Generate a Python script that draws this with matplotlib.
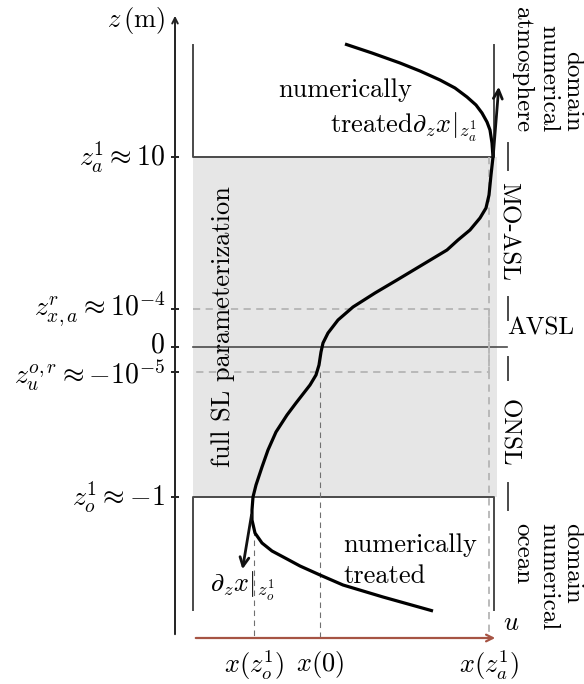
import matplotlib
matplotlib.use('Agg')
import matplotlib.pyplot as plt

plt.rcParams['mathtext.fontset'] = 'cm'
plt.rcParams['font.family'] = 'cmr10'
plt.rcParams['axes.unicode_minus'] = False

# schematic units: u along the velocity axis, z along the height axis (z=0 is the interface)
z_a1, z_xa, z_0, z_uo, z_o1 = 190, 38, 0, -25, -150
u_o1, u_0, u_a1 = 79, 145, 314
z_top, z_bot = 302, -263
u_left, u_right = 18, 319

level_z = [z_a1, z_xa, z_0, z_uo, z_o1]
level_labels = [r'$z_a^1 \approx 10$', r'$z_{x,a}^r \approx 10^{-4}$', r'$0$',
                r'$z_u^{o,r} \approx {-10}^{-5}$', r'$z_o^1 \approx {-1}$']
label_shift = [0, 0, 2, -3, 0]

# velocity profile u(z)
prof_u = [170, 197, 225, 245, 265, 280, 292, 301, 307, 312, 315, 317, 318, 316, 314, 311,
          305, 295, 283, 272, 247, 222, 200, 178, 163, 153, 148, 146, 144, 141, 135, 121,
          112, 101, 93, 87, 81, 78, 77, 77, 80, 87, 97, 112, 125, 145, 168, 188, 208, 233, 258]
prof_z = [303, 294, 284, 276, 267, 259, 250, 242, 234, 225, 217, 204, 190, 172, 152, 139,
          129, 117, 107, 97, 82, 67, 54, 40, 27, 14, 4, -5, -18, -28, -38, -56,
          -68, -85, -103, -120, -138, -150, -163, -173, -186, -196, -204, -212, -219, -228,
          -238, -244, -250, -257, -264]

# separators between the layer labels on the right
sep_z = [(204, 177), (50, 27), (-10, -33), (-136, -163)]

atm_words = ['atmosphere', 'numerical', 'domain']
ocn_words = ['ocean', 'numerical', 'domain']
word_cols = [347, 373, 397]

fig = plt.figure(figsize=(5.84, 6.84), dpi=100)
ax = fig.add_axes([0, 0, 1, 1])
ax.set_xlim(-175, 409)
ax.set_ylim(-337, 347)
ax.axis('off')

box = '#4a4a4a'
fs = 19

# shaded surface layer
ax.fill_between([u_left, u_right + 3], z_o1, z_a1, color='#e6e6e6', lw=0, zorder=0)

# atmosphere and ocean domains
ax.plot([u_left, u_left, u_right, u_right], [z_top, z_a1, z_a1, z_top], color=box, lw=1.4)
ax.plot([u_left, u_left, u_right, u_right], [z_bot, z_o1, z_o1, z_bot], color=box, lw=1.4)
ax.plot([u_left, u_right + 13], [z_0, z_0], color=box, lw=1.2)

# roughness heights and reference values
dash = dict(color='#b5b5b5', lw=1.3, dashes=(4, 3))
ax.plot([u_left, u_a1, u_a1, u_left], [z_xa, z_xa, z_uo, z_uo], **dash)
ax.plot([u_a1, u_a1], [z_a1, -291], **dash)
ax.plot([u_0, u_0], [z_uo, -291], color='#707070', lw=0.8, dashes=(5, 4))
ax.plot([u_o1, u_o1], [-183, -291], color='#707070', lw=0.8, dashes=(5, 4))

# profile
ax.plot(prof_u, prof_z, color='black', lw=2.3, solid_capstyle='butt', zorder=3)

# boundary gradients
ax.annotate('', xy=(324, 263), xytext=(318, 188),
            arrowprops=dict(arrowstyle='->', lw=2.0, color='#111111', mutation_scale=16))
ax.annotate('', xy=(67, -225), xytext=(77, -165),
            arrowprops=dict(arrowstyle='->', lw=2.0, color='#111111', mutation_scale=16))

# axes
ax.annotate('', xy=(0, 334), xytext=(0, -290),
            arrowprops=dict(arrowstyle='->', lw=1.4, color='#222222', mutation_scale=10))
ax.annotate('', xy=(323, -291), xytext=(u_left, -291),
            arrowprops=dict(arrowstyle='->', lw=1.6, color='#a65444', mutation_scale=12))
ax.plot([0] * len(level_z), level_z, ls='none', marker='_', ms=6, mew=1.4, color='#222222')

ax.text(-10, 327, r'$z\,(\mathrm{m})$', ha='right', va='center', fontsize=fs)
for z, dz, lab in zip(level_z, label_shift, level_labels):
    ax.text(-10, z + dz, lab, ha='right', va='center', fontsize=fs + 1)

for lab, u in [(r'$x(z_o^1)$', u_o1), (r'$x(0)$', u_0), (r'$x(z_a^1)$', u_a1)]:
    ax.text(u, -318, lab, ha='center', va='center', fontsize=fs)
ax.text(328, -276, r'$u$', ha='left', va='center', fontsize=fs)

# region labels
ax.text(103, 250, 'numerically', ha='left', va='baseline', fontsize=fs)
ax.text(155, 214, r'$\mathrm{treated}\partial_z x|_{z_a^1}$', ha='left', va='baseline', fontsize=fs)
ax.text(168, -205, 'numerically', ha='left', va='baseline', fontsize=fs)
ax.text(168, -236, 'treated', ha='left', va='baseline', fontsize=fs)
ax.text(35, -245, r'$\partial_z x|_{z_o^1}$', ha='left', va='baseline', fontsize=fs)
ax.text(48, 20, 'full SL parameterization', rotation=90, ha='center', va='center', fontsize=fs)

for lo, hi in sep_z:
    ax.plot([333, 333], [lo, hi], color=box, lw=1.4)
ax.text(333, 115, 'MO-ASL', rotation=-90, ha='center', va='center', fontsize=fs - 1)
ax.text(333, -86, 'ONSL', rotation=-90, ha='center', va='center', fontsize=fs - 1)
ax.text(332, 19, 'AVSL', ha='left', va='center', fontsize=fs - 1)
for word, u in zip(atm_words, word_cols):
    ax.text(u, 215, word, rotation=-90, ha='center', va='bottom', fontsize=fs - 1)
for word, u in zip(ocn_words, word_cols):
    ax.text(u, -176, word, rotation=-90, ha='center', va='top', fontsize=fs - 1)

fig.savefig('out.png', dpi=100)
